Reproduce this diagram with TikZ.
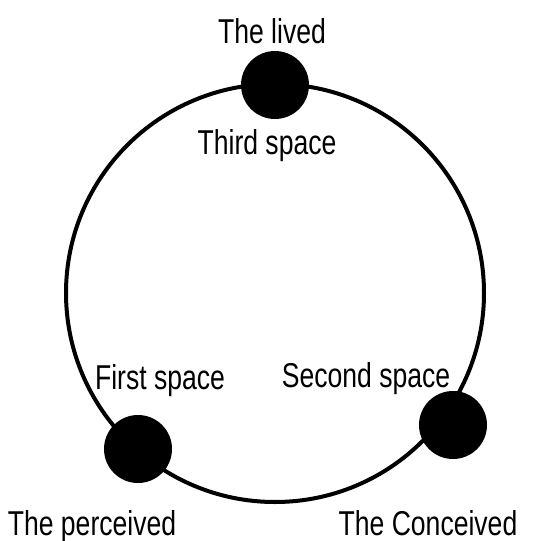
\documentclass[tikz,border=0pt]{standalone}
\usepackage{fontspec}
\setmainfont{Liberation Sans}[FakeStretch=0.77]
\begin{document}
\begin{tikzpicture}[x=1pt,y=-1pt, line join=round, line cap=round,
	dot/.style={circle, fill=black, inner sep=0pt, minimum size=68pt},
	lbl/.style={anchor=base, inner sep=0pt, font=\fontsize{34.5}{40}\selectfont}]
	\useasboundingbox (0,0) rectangle (539,541);
	\coordinate (ctr) at (275,293);
	\draw[line width=4pt] (ctr) circle[radius=209pt];
	
	\foreach \x/\y/\n in {275/85/lived,138/449/perceived,453/425/conceived}
	\node[dot] (\n) at (\x,\y) {};
	
	\foreach \x/\y/\n/\t in {272/43/livedlbl/The lived,267/154/third/Third space,160/389/first/First space,366/387/second/Second space,92/535/perclbl/The perceived,428/535/conclbl/The Conceived}
	\node[lbl] (\n) at (\x,\y) {\t};
\end{tikzpicture}
\end{document}
